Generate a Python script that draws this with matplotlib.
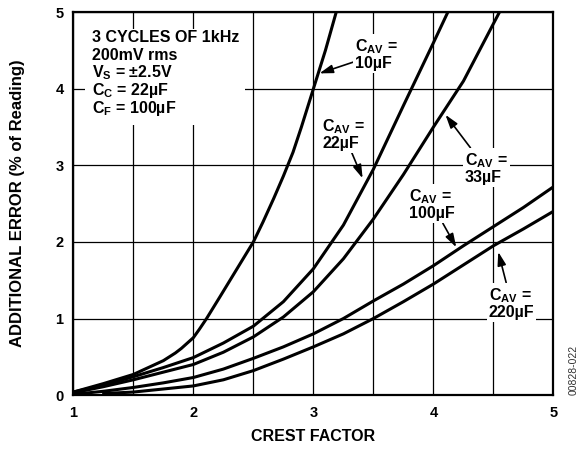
import matplotlib
matplotlib.use("Agg")
import matplotlib.pyplot as plt
from matplotlib.patches import Rectangle

plt.rcParams['font.family'] = 'Liberation Sans'
plt.rcParams['font.weight'] = 'bold'
plt.rcParams['mathtext.fontset'] = 'custom'
plt.rcParams['mathtext.rm'] = 'Liberation Sans:bold'
plt.rcParams['mathtext.it'] = 'Liberation Sans:bold'
plt.rcParams['mathtext.bf'] = 'Liberation Sans:bold'

# crest factor vs additional error (% of reading)
x_10 = [1.0, 1.25, 1.5, 1.75, 1.85, 1.9, 2.0, 2.05, 2.11, 2.22, 2.36, 2.5, 2.58, 2.67, 2.75, 2.83, 2.9, 3.0, 3.1, 3.19]
y_10 = [0.04, 0.15, 0.27, 0.45, 0.55, 0.61, 0.75, 0.86, 1.0, 1.28, 1.64, 2.0, 2.26, 2.57, 2.86, 3.17, 3.5, 4.0, 4.5, 5.0]

x_22 = [1.0, 1.25, 1.5, 1.75, 2.0, 2.25, 2.5, 2.75, 3.0, 3.25, 3.5, 3.75, 4.0, 4.12]
y_22 = [0.04, 0.13, 0.24, 0.36, 0.49, 0.68, 0.9, 1.22, 1.65, 2.22, 2.95, 3.78, 4.6, 5.0]

x_33 = [1.0, 1.25, 1.5, 1.75, 2.0, 2.25, 2.5, 2.75, 3.0, 3.25, 3.5, 3.75, 4.0, 4.25, 4.55]
y_33 = [0.03, 0.11, 0.2, 0.3, 0.4, 0.56, 0.76, 1.02, 1.35, 1.78, 2.3, 2.88, 3.5, 4.1, 5.0]

x_100 = [1.0, 1.25, 1.5, 1.75, 2.0, 2.25, 2.5, 2.75, 3.0, 3.25, 3.5, 3.75, 4.0, 4.25, 4.5, 4.75, 5.0]
y_100 = [0.01, 0.05, 0.1, 0.16, 0.23, 0.34, 0.48, 0.63, 0.8, 1.0, 1.23, 1.45, 1.69, 1.95, 2.2, 2.45, 2.72]

x_220 = [1.24, 1.5, 1.75, 2.0, 2.25, 2.5, 2.75, 3.0, 3.25, 3.5, 3.75, 4.0, 4.25, 4.5, 4.75, 5.0]
y_220 = [0.02, 0.04, 0.08, 0.12, 0.2, 0.32, 0.47, 0.63, 0.8, 1.0, 1.22, 1.45, 1.7, 1.95, 2.17, 2.4]

cond_lines = ['3 CYCLES OF 1kHz', '200mV rms', 'V$_{S}$ = ±2.5V', 'C$_{C}$ = 22µF', 'C$_{F}$ = 100µF']

fig = plt.figure(figsize=(5.82, 4.49), dpi=100)
ax = fig.add_axes([0.126, 0.12, 0.825, 0.853])

for xs, ys in [(x_10, y_10), (x_22, y_22), (x_33, y_33), (x_100, y_100), (x_220, y_220)]:
    ax.plot(xs, ys, color='black', lw=2.2, solid_capstyle='butt', solid_joinstyle='round', zorder=3)

ax.set_xlim(1, 5)
ax.set_ylim(0, 5)
ax.set_xticks([1, 2, 3, 4, 5])
ax.set_xticks([1.5, 2.5, 3.5, 4.5], minor=True)
ax.set_yticks([0, 1, 2, 3, 4, 5])
ax.grid(True, which='both', color='black', lw=0.9)
ax.tick_params(which='both', length=0)
ax.tick_params(axis='x', pad=8, labelsize=10.5)
ax.tick_params(axis='y', pad=7, labelsize=10.5)
for s in ax.spines.values():
    s.set_linewidth(1.6)

ax.set_xlabel('CREST FACTOR', fontsize=11.5, fontweight='bold', labelpad=6)
ax.set_ylabel('ADDITIONAL ERROR (% of Reading)', fontsize=12, fontweight='bold', labelpad=22)

# white area behind the test conditions
ax.add_patch(Rectangle((0.024, 0.705), 0.334, 0.25, transform=ax.transAxes,
                       fc='white', ec='none', zorder=2))
for i, line in enumerate(cond_lines):
    ax.text(0.038, 0.922 - i * 0.0465, line, transform=ax.transAxes,
            fontsize=11.5, fontweight='bold', va='baseline', ha='left', zorder=4)

arrow = dict(arrowstyle='-|>,head_length=0.7,head_width=0.22', color='black', lw=1.2,
             shrinkA=0, shrinkB=0)
labels = [
    ('C$_{AV}$ =\n10µF', (3.05, 4.2), (3.35, 4.45)),
    ('C$_{AV}$ =\n22µF', (3.41, 2.83), (3.075, 3.41)),
    ('C$_{AV}$ =\n33µF', (4.1, 3.66), (4.26, 2.96)),
    ('C$_{AV}$ =\n100µF', (4.19, 1.93), (3.8, 2.49)),
    ('C$_{AV}$ =\n220µF', (4.54, 1.87), (4.46, 1.2)),
]
for txt, tip, pos in labels:
    ax.annotate(txt, xy=tip, xytext=pos, fontsize=11.5, fontweight='bold',
                ha='left', va='center', linespacing=1.0,
                bbox=dict(fc='white', ec='none', pad=1.5),
                arrowprops=arrow, zorder=4)

fig.text(0.985, 0.175, '00828-022', rotation=90, fontsize=7.5, fontweight='normal',
         ha='center', va='center', color='#333333')

fig.savefig('out.png', dpi=100)
